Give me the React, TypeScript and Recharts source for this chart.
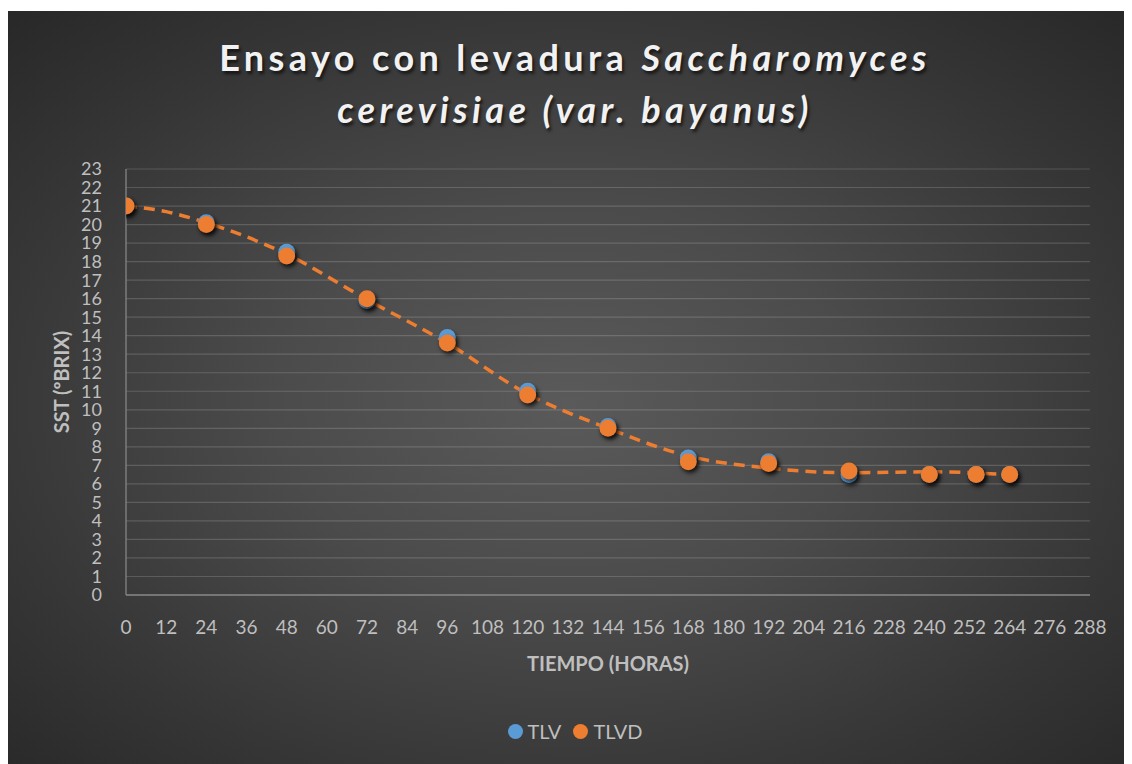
import React from "react";
import {
  ComposedChart,
  XAxis,
  YAxis,
  CartesianGrid,
  Scatter,
  Line,
} from "recharts";

const hours = [0, 24, 48, 72, 96, 120, 144, 168, 192, 216, 240, 254, 264];
const tlv = [21, 20.1, 18.5, 15.9, 13.9, 11.0, 9.1, 7.4, 7.2, 6.5, 6.5, 6.5, 6.5];
const tlvd = [21, 20, 18.3, 16, 13.6, 10.8, 9.0, 7.2, 7.1, 6.7, 6.5, 6.5, 6.5];

const trendHours = [0, 12, 24, 48, 72, 96, 120, 144, 168, 192, 216, 240, 264];
const trendVals = [21.0, 20.7, 20.1, 18.4, 15.95, 13.6, 10.85, 9.0, 7.5, 6.85, 6.6, 6.65, 6.5];

const xTicks = [0, 12, 24, 36, 48, 60, 72, 84, 96, 108, 120, 132, 144, 156, 168, 180, 192, 204, 216, 228, 240, 252, 264, 276, 288];
const yTicks = [0, 1, 2, 3, 4, 5, 6, 7, 8, 9, 10, 11, 12, 13, 14, 15, 16, 17, 18, 19, 20, 21, 22, 23];

const seriesTLV = hours.map((h, i) => ({ x: h, y: tlv[i] }));
const seriesTLVD = hours.map((h, i) => ({ x: h, y: tlvd[i] }));
const trend = trendHours.map((h, i) => ({ x: h, y: trendVals[i] }));

const BLUE = "#5b9bd5";
const ORANGE = "#ed7d31";
const TXT = "#bfbfbf";
const FONT = "Lato, 'Open Sans', sans-serif";

const makeDot = (color: string) => (props: any) => {
  const { cx, cy } = props;
  if (cx == null || cy == null) return <g />;
  return (
    <circle
      cx={cx}
      cy={cy}
      r={8.5}
      fill={color}
      style={{ filter: "drop-shadow(2px 3px 2px rgba(0,0,0,0.65))" }}
    />
  );
};

export default function App() {
  const W = 1124;
  const H = 753;
  return (
    <div
      style={{
        position: "relative",
        width: W,
        height: H,
        marginTop: 3,
        background:
          "radial-gradient(ellipse 75% 75% at 50% 52%, #5a5a5a 0%, #4b4b4b 35%, #363636 70%, #262626 100%)",
        fontFamily: FONT,
      }}
    >
      <div
        style={{
          position: "absolute",
          left: 0,
          top: 20,
          width: W,
          textAlign: "center",
          color: "#f2f2f2",
          fontSize: 36,
          fontWeight: 700,
          letterSpacing: 4.4,
          lineHeight: "52px",
          textShadow: "2px 3px 3px rgba(0,0,0,0.6)",
          fontFamily: "Lato, sans-serif",
        }}
      >
        <div style={{ paddingLeft: 10 }}>
          Ensayo con levadura <i>Saccharomyces</i>
        </div>
        <div style={{ paddingLeft: 10 }}>
          <i>cerevisiae (var. bayanus)</i>
        </div>
      </div>
      <div style={{ position: "absolute", left: 0, top: 0 }}>
        <ComposedChart
          width={W}
          height={H}
          margin={{ top: 158, right: 42, bottom: 139, left: 64 }}
        >
          <CartesianGrid
            vertical={false}
            stroke="rgba(255,255,255,0.16)"
            strokeWidth={1.2}
          />
          <XAxis
            dataKey="x"
            type="number"
            domain={[0, 288]}
            ticks={xTicks}
            interval={0}
            tickLine={false}
            axisLine={{ stroke: "#858585", strokeWidth: 1.3 }}
            tick={{ fill: TXT, fontSize: 19, fontFamily: FONT }}
            tickMargin={20}
            height={30}
            allowDataOverflow
            label={{
              value: "TIEMPO (HORAS)",
              position: "insideBottom",
              offset: -46,
              fill: TXT,
              fontSize: 20,
              fontWeight: 700,
              fontFamily: FONT,
            }}
          />
          <YAxis
            type="number"
            domain={[0, 23]}
            ticks={yTicks}
            interval={0}
            tickLine={false}
            axisLine={{ stroke: "#858585", strokeWidth: 1.3 }}
            tick={{ fill: TXT, fontSize: 18, fontFamily: FONT }}
            tickMargin={18}
            width={54}
            allowDataOverflow
            label={{
              value: "SST (ºBRIX)",
              angle: -90,
              position: "insideLeft",
              offset: -10,
              fill: TXT,
              fontSize: 20,
              fontWeight: 700,
              fontFamily: FONT,
              style: { textAnchor: "middle" },
            }}
          />
          <Line
            data={trend}
            dataKey="y"
            type="monotone"
            stroke={ORANGE}
            strokeWidth={3.5}
            strokeDasharray="11 7"
            dot={false}
            activeDot={false}
            legendType="none"
            isAnimationActive={false}
          />
          <Scatter
            name="TLV"
            data={seriesTLV}
            dataKey="y"
            fill={BLUE}
            shape={makeDot(BLUE)}
            isAnimationActive={false}
          />
          <Scatter
            name="TLVD"
            data={seriesTLVD}
            dataKey="y"
            fill={ORANGE}
            shape={makeDot(ORANGE)}
            isAnimationActive={false}
          />
        </ComposedChart>
      </div>
      <div
        style={{
          position: "absolute",
          top: 708,
          left: 0,
          width: W,
          display: "flex",
          justifyContent: "center",
          alignItems: "center",
          color: TXT,
          fontSize: 20,
          fontFamily: FONT,
          paddingLeft: 10,
          boxSizing: "border-box",
        }}
      >
        <span style={{ display: "inline-flex", alignItems: "center", marginRight: 12 }}>
          <span style={{ width: 15, height: 15, borderRadius: 8, background: BLUE, display: "inline-block", marginRight: 5 }} />
          TLV
        </span>
        <span style={{ display: "inline-flex", alignItems: "center" }}>
          <span style={{ width: 15, height: 15, borderRadius: 8, background: ORANGE, display: "inline-block", marginRight: 5 }} />
          TLVD
        </span>
      </div>
    </div>
  );
}
